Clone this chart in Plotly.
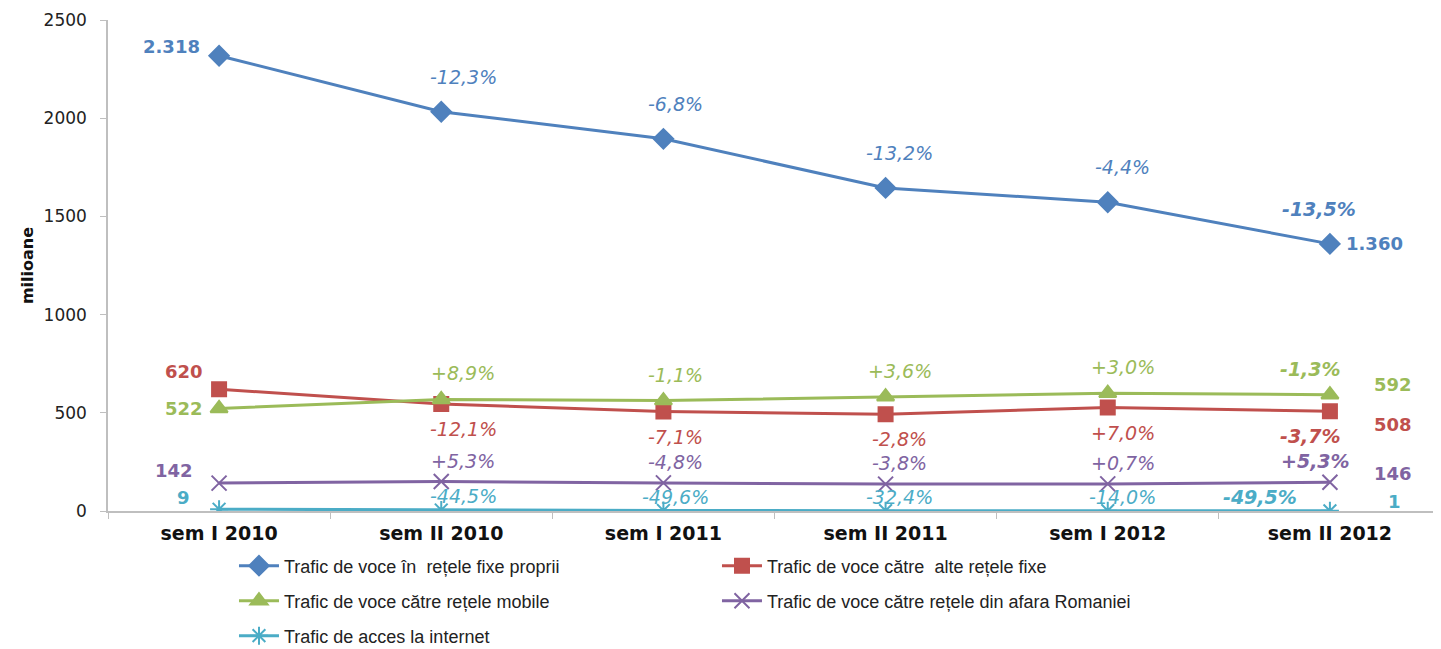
import plotly.graph_objects as go

categories = ["sem I 2010", "sem II 2010", "sem I 2011", "sem II 2011", "sem I 2012", "sem II 2012"]

names = [
    "Trafic de voce în  rețele fixe proprii",
    "Trafic de voce către  alte rețele fixe",
    "Trafic de voce către rețele mobile",
    "Trafic de voce către rețele din afara Romaniei",
    "Trafic de acces la internet",
]

fixe_proprii = [2318, 2033, 1895, 1645, 1572, 1360]
alte_fixe = [620, 545, 506, 492, 527, 508]
mobile = [522, 568, 562, 582, 600, 592]
afara = [142, 150, 143, 137, 138, 146]
internet = [9, 5, 2.5, 1.7, 1.5, 1]

pct_fixe_proprii = ["", "-12,3%", "-6,8%", "-13,2%", "-4,4%", "-13,5%"]
pct_alte_fixe = ["", "-12,1%", "-7,1%", "-2,8%", "+7,0%", "-3,7%"]
pct_mobile = ["", "+8,9%", "-1,1%", "+3,6%", "+3,0%", "-1,3%"]
pct_afara = ["", "+5,3%", "-4,8%", "-3,8%", "+0,7%", "+5,3%"]
pct_internet = ["", "-44,5%", "-49,6%", "-32,4%", "-14,0%", "-49,5%"]

series = [fixe_proprii, alte_fixe, mobile, afara, internet]
pcts = [pct_fixe_proprii, pct_alte_fixe, pct_mobile, pct_afara, pct_internet]

# styles
colors = ["#4F81BD", "#C0504D", "#9BBB59", "#8064A2", "#4BACC6"]
symbols = ["diamond", "square", "triangle-up", "x-thin-open", "asterisk-open"]
msizes = [15, 14, 15, 15, 15]
legend_ids = ["legend", "legend", "legend2", "legend2", "legend3"]
pct_yshift = [35, -25, 26, 21, 14]
pct_xshift_mid = [0, 22, 12, 14, 15]
pct_xshift_last = [-11, -19, -19, -14, -70]
start_shift = [(-17, 9), (-14, 18), (-14, 0), (-24, 13), (-27, 12)]
end_shift = [(14, 0), (42, -13), (42, 10), (42, 9), (56, 9)]


def fmt(v):
    return f"{int(round(v)):,}".replace(",", ".")


fig = go.Figure()
for i, vals in enumerate(series):
    fig.add_trace(go.Scatter(
        x=categories, y=vals, name=names[i], mode="lines+markers",
        line=dict(color=colors[i], width=3),
        marker=dict(symbol=symbols[i], size=msizes[i], color=colors[i],
                    line=dict(color=colors[i], width=2)),
        legend=legend_ids[i],
    ))

annotations = []
for i, vals in enumerate(series):
    for j in range(1, len(categories)):
        last = j == len(categories) - 1
        annotations.append(dict(
            x=categories[j], y=vals[j], xref="x", yref="y", text=pcts[i][j],
            showarrow=False, xanchor="center", yanchor="middle",
            xshift=pct_xshift_last[i] if last else pct_xshift_mid[j],
            yshift=pct_yshift[i],
            font=dict(family="DejaVu Sans", size=19, color=colors[i], style="italic",
                      weight="bold" if last else "normal"),
        ))
    annotations.append(dict(
        x=categories[0], y=vals[0], xref="x", yref="y", text=fmt(vals[0]),
        showarrow=False, xanchor="right", yanchor="middle",
        xshift=start_shift[i][0], yshift=start_shift[i][1],
        font=dict(family="DejaVu Sans", size=18, color=colors[i], weight="bold"),
    ))
    annotations.append(dict(
        x=categories[-1], y=vals[-1], xref="x", yref="y", text=fmt(vals[-1]),
        showarrow=False, xanchor="left", yanchor="middle",
        xshift=end_shift[i][0], yshift=end_shift[i][1],
        font=dict(family="DejaVu Sans", size=18, color=colors[i], weight="bold"),
    ))

legend_common = dict(
    orientation="h", xanchor="left", yanchor="middle",
    xref="container", yref="container",
    entrywidth=428, entrywidthmode="pixels",
    font=dict(family="Liberation Sans, Arial", size=18, color="#222"),
    bgcolor="rgba(0,0,0,0)", itemwidth=40,
)

fig.update_layout(
    width=1433, height=641,
    margin=dict(l=100, r=0, t=12, b=138, autoexpand=False),
    plot_bgcolor="white", paper_bgcolor="white",
    showlegend=True,
    legend=dict(x=0.1577, y=0.1295, **legend_common),
    legend2=dict(x=0.1577, y=0.0749, **legend_common),
    legend3=dict(x=0.1577, y=0.0203, **legend_common),
    annotations=annotations,
    xaxis=dict(
        type="category", showgrid=False, showline=True, linecolor="#BFBFBF", linewidth=1.5,
        ticks="outside", tickson="boundaries", ticklen=6, tickcolor="#BFBFBF",
        tickfont=dict(family="DejaVu Sans", size=19, color="#111", weight="bold"),
        ticklabelstandoff=4,
        range=[-0.5, 5.5],
    ),
    yaxis=dict(
        range=[0, 2500], tickvals=[0, 500, 1000, 1500, 2000, 2500],
        showgrid=False, showline=True, linecolor="#BFBFBF", linewidth=1.5,
        ticks="outside", ticklen=6, tickcolor="#BFBFBF", zeroline=False,
        tickfont=dict(family="DejaVu Sans", size=17, color="#222"),
        ticklabelstandoff=10,
        title=dict(text="milioane", font=dict(family="DejaVu Sans", size=16, color="#111", weight="bold"),
                   standoff=6),
    ),
)

fig.write_html("out.html")
